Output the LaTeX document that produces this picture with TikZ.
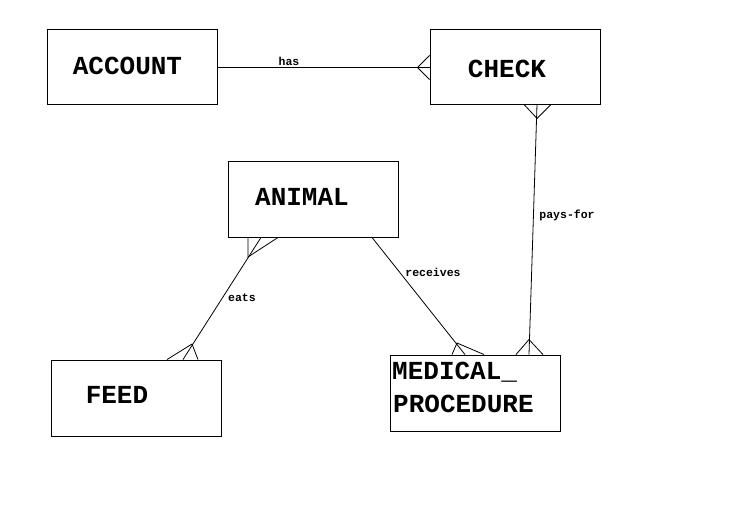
\documentclass[tikz,border=0pt]{standalone}
\usepackage{fontspec}
\setmonofont{Liberation Mono}
\usetikzlibrary{calc}
\begin{document}
\begin{tikzpicture}[x=1pt,y=-1pt,
  entity/.style={draw,line width=0.9pt,minimum width=170pt,minimum height=75pt,inner sep=0pt},
  etext/.style={font=\ttfamily\bfseries\fontsize{26}{28}\selectfont,inner sep=0pt},
  rel/.style={font=\ttfamily\bfseries\fontsize{11.5}{12}\selectfont,inner sep=0pt},
  conn/.style={line width=0.8pt}]
\useasboundingbox[fill=white] (0,0) rectangle (750,528);
% entities
\node[entity] (account) at (132,66.5) {};
\node[entity] (check) at (515,66.5) {};
\node[entity,minimum height=76pt] (animal) at (313,199) {};
\node[entity,minimum height=76pt] (feed) at (136,398) {};
\node[entity,minimum height=76pt] (med) at (475,393) {};
% entity texts
\node[etext,anchor=base] (taccount) at (127.5,74) {ACCOUNT};
\node[etext,anchor=base] (tcheck) at (507,77) {CHECK};
\node[etext,anchor=base] (tanimal) at (302,205) {ANIMAL};
\node[etext,anchor=base] (tfeed) at (117,403) {FEED};
\node[etext,anchor=base west] (tmed1) at (392,379) {MEDICAL\_};
\node[etext,anchor=base west] (tmed2) at (393,412) {PROCEDURE};
% has
\coordinate (hasv) at ($(check.west)+(-12,0)$);
\draw[conn] ($(account.east)+(0,1)$) -- ($(check.west)+(0,1)$);
\draw[conn] ($(check.west)+(0,-11)$) -- ($(hasv)+(0,1)$) -- ($(check.west)+(0,13)$);
\node[rel,anchor=base] (lhas) at (289,65) {has};
% pays-for
\coordinate (pa) at ($(check.south)+(22,0)$);
\coordinate (pav) at ($(check.south)+(22,14)$);
\coordinate (pb) at ($(med.north)+(54,0)$);
\coordinate (pbv) at ($(med.north)+(54,-15)$);
\draw[conn] (pa) -- (pb);
\draw[conn] ($(check.south)+(9,0)$) -- (pav) -- ($(check.south)+(36,0)$);
\draw[conn] ($(med.north)+(41,0)$) -- (pbv) -- ($(med.north)+(68,0)$);
\node[rel] (lpays) at (567,215) {pays-for};
% receives
\coordinate (ra) at ($(animal.south)+(59,0)$);
\coordinate (rb) at ($(med.north)+(-10,0)$);
\coordinate (rbv) at (457,343);
\draw[conn] (ra) -- (rb);
\draw[conn] ($(med.north)+(-23,0)$) -- (rbv) -- ($(med.north)+(9,0)$);
\node[rel] (lrec) at (433,272) {receives};
% eats
\coordinate (ea) at ($(animal.south)+(-52,0)$);
\coordinate (eav) at (248,257);
\coordinate (eb) at ($(feed.north)+(47,0)$);
\coordinate (ebv) at (192,344);
\draw[conn] (ea) -- (eb);
\draw[conn] ($(animal.south)+(-65,0)$) -- (eav) -- ($(animal.south)+(-35,0)$);
\draw[conn] ($(feed.north)+(31,0)$) -- (ebv) -- ($(feed.north)+(62,0)$);
\node[rel] (leats) at (242,298) {eats};
\end{tikzpicture}
\end{document}
